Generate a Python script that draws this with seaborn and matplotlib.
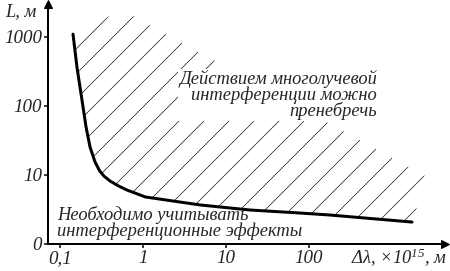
import numpy as np
import pandas as pd
import seaborn as sns
import matplotlib
import matplotlib.pyplot as plt

# curve: delta lambda (x1e-15 m) vs L (m)
dl = [0.1435, 0.16, 0.184, 0.206, 0.23, 0.264, 0.30, 0.34, 0.40, 0.5, 0.64, 1.07, 4.87, 19.4, 78.5, 179, 1745]
L = [1100, 368, 122, 49.6, 25.5, 15.5, 11.5, 9.6, 8.2, 7.0, 6.06, 4.8, 3.68, 3.11, 2.81, 2.63, 2.08]

# upper corners of the hatched region
hatch_dl = [2640, 0.558]
hatch_L = [9.35, 2462]

xticks = [0.1, 1, 10, 100]
xlabels = ['0,1', '1', '10', '100']
yticks = [1, 10, 100, 1000]
ylabels = ['0', '10', '100', '1000']

sns.set_style('white')
plt.rcParams['font.family'] = ['Liberation Serif', 'DejaVu Serif']
plt.rcParams['font.style'] = 'italic'
plt.rcParams['mathtext.fontset'] = 'custom'
plt.rcParams['mathtext.it'] = 'Liberation Serif:italic'
plt.rcParams['mathtext.rm'] = 'Liberation Serif:italic'
plt.rcParams['hatch.linewidth'] = 0.6
plt.rcParams['hatch.color'] = 'black'

DPI = 75
def px(v):
    return v * 72 / DPI

fig = plt.figure(figsize=(450 / DPI, 271 / DPI), dpi=DPI)
ax = fig.add_axes([48 / 450, 27 / 271, 397 / 450, 240 / 271])

df = pd.DataFrame({'dl': dl, 'L': L})
ax.fill(dl + hatch_dl, L + hatch_L, facecolor='none', edgecolor='black', lw=0, hatch='/')
sns.lineplot(data=df, x='dl', y='L', color='black', lw=px(3), ax=ax, sort=False)

ax.set_xscale('log')
ax.set_yscale('log')
ax.set_xlim(0.0717, 4355)
ax.set_ylim(1, 3006)
ax.minorticks_off()
ax.set_xticks(xticks)
ax.set_xticklabels(xlabels)
ax.set_yticks(yticks)
ax.set_yticklabels(ylabels)
ax.tick_params(direction='out', length=px(4), width=px(1.5), color='black',
               labelsize=px(19), pad=px(2), bottom=True, left=True)
ax.set_xlabel('')
ax.set_ylabel('')

for s in ['top', 'right']:
    ax.spines[s].set_visible(False)
for s in ['left', 'bottom']:
    ax.spines[s].set_linewidth(px(2))
    ax.spines[s].set_color('black')
ax.plot(1, 0, '>k', ms=px(8), transform=ax.transAxes, clip_on=False)
ax.plot(0, 1, '^k', ms=px(8), transform=ax.transAxes, clip_on=False)

ax.text(659, 144, 'Действием многолучевой\nинтерференции можно\nпренебречь',
        ha='right', va='center', fontsize=px(18.5), linespacing=0.85,
        bbox=dict(facecolor='white', edgecolor='none', pad=1))
ax.text(0.092, 2.0, 'Необходимо учитывать\nинтерференционные эффекты',
        ha='left', va='center', fontsize=px(18.5), linespacing=0.85)

fig.text(5 / 450, 1 - 12 / 271, 'L, м', ha='left', va='center', fontsize=px(18.5))
fig.text(447 / 450, 1 - 258 / 271, r'Δλ, ×10$^{15}$, м', ha='right', va='center', fontsize=px(18.5))

fig.savefig('out.png', dpi=DPI)
